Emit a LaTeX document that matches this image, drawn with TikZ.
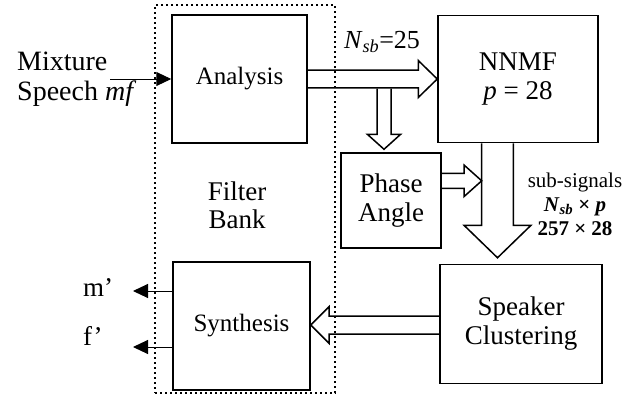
\documentclass[tikz,border=0pt]{standalone}
\usepackage{fontspec}
\setmainfont{Liberation Serif}
\usetikzlibrary{arrows.meta,calc,positioning}

\tikzset{
  block/.style={draw, line width=1.5pt, align=center, inner sep=0pt, font=\fontsize{27}{29}\selectfont},
  fatline/.style={line width=1.5pt, line join=miter},
  thinarrow/.style={-{Triangle[length=15pt,width=14pt]}, line width=1pt},
  label/.style={inner sep=0pt, align=center, font=\fontsize{27}{28}\selectfont}
}

% hollow block arrow: tail, tip, shaft half width, head half width, head length
\newcommand{\fatarrow}[5]{%
  \draw[fatline] let \p1=($(#2)-(#1)$), \n1={atan2(\y1,\x1)}, \n2={veclen(\x1,\y1)} in
    {[shift={(#1)}, rotate=\n1]
    (0pt,#3) -- (\n2-#5,#3) -- (\n2-#5,#4) -- (\n2,0pt) -- (\n2-#5,-#4) -- (\n2-#5,-#3) -- (0pt,-#3)};
}

\begin{document}
\begin{tikzpicture}[x=1pt, y=-1pt]
    \useasboundingbox (0,0) rectangle (635,400);

    % Blocks
    \node[block, minimum width=135pt, minimum height=128pt, font=\fontsize{25}{28}\selectfont] (ana) at (239.5,79) {Analysis};
    \node[block, minimum width=160pt, minimum height=127pt] (nnmf) at (518,79) {NNMF\\\textit{p} = 28};
    \node[block, minimum width=100pt, minimum height=95pt] (phase) at (391,200.5) {Phase\\Angle};
    \node[block, minimum width=162pt, minimum height=119pt] (spk) at (521,324) {Speaker\\Clustering};
    \node[block, minimum width=137pt, minimum height=128pt, font=\fontsize{25}{28}\selectfont] (syn) at (241.5,326) {Synthesis};

    % Filter bank
    \node[draw, line width=2pt, dash pattern=on 2pt off 3pt, minimum width=180pt, minimum height=388pt] (bank) at (245,199) {};
    \node[label] (banklab) at (237,205) {Filter\\Bank};

    % Input and outputs
    \node[label, anchor=west, align=left, font=\fontsize{28}{30}\selectfont] (mix) at (17,79) {Mixture\\Speech \textit{mf}};
    \coordinate (mixin) at (110,79);
    \draw[thinarrow] (mixin) -- (ana.west);

    \coordinate (mout) at (133,291);
    \coordinate (fout) at (133,347);
    \draw[thinarrow] (syn.west |- mout) -- (mout);
    \draw[thinarrow] (syn.west |- fout) -- (fout);
    \node[label, anchor=west] (mlab) at (83,288) {m’};
    \node[label, anchor=west] (flab) at (83,336) {f’};

    % Block arrows
    \coordinate (split) at (384,88.5);
    \coordinate (phin) at ($(split |- phase.north)+(0,-3)$);
    \coordinate (nnout) at ($(nnmf.south)+(-20.5,0)$);
    \coordinate (spkin) at ($(nnout |- spk.north)+(0,-6)$);
    \coordinate (phout) at ($(phase.east)+(0,-19.7)$);
    \coordinate (phtip) at ($(nnout |- phout)+(-15.8,0)$);
    \coordinate (spout) at ($(spk.west)+(0,1)$);

    \fatarrow{ana.east}{nnmf.west}{8.8pt}{18.5pt}{19pt}
    \fatarrow{split}{phin}{7pt}{16.7pt}{15pt}
    \fatarrow{phout}{phtip}{7.5pt}{15.8pt}{17.7pt}
    \fatarrow{nnout}{spkin}{15.8pt}{33.3pt}{32.3pt}
    \fatarrow{spout}{syn.east |- spout}{9pt}{18.3pt}{18.3pt}

    % Labels
    \node[label, font=\fontsize{26}{28}\selectfont] (nsb) at (382,42) {\textit{N}\textsubscript{\textit{sb}}=25};
    \node[label, font=\fontsize{21}{24}\selectfont] (sub) at (575,204) {sub-signals\\\textbf{\textit{N}\textsubscript{\textit{sb}} × \textit{p}}\\\textbf{257 × 28}};
\end{tikzpicture}
\end{document}
